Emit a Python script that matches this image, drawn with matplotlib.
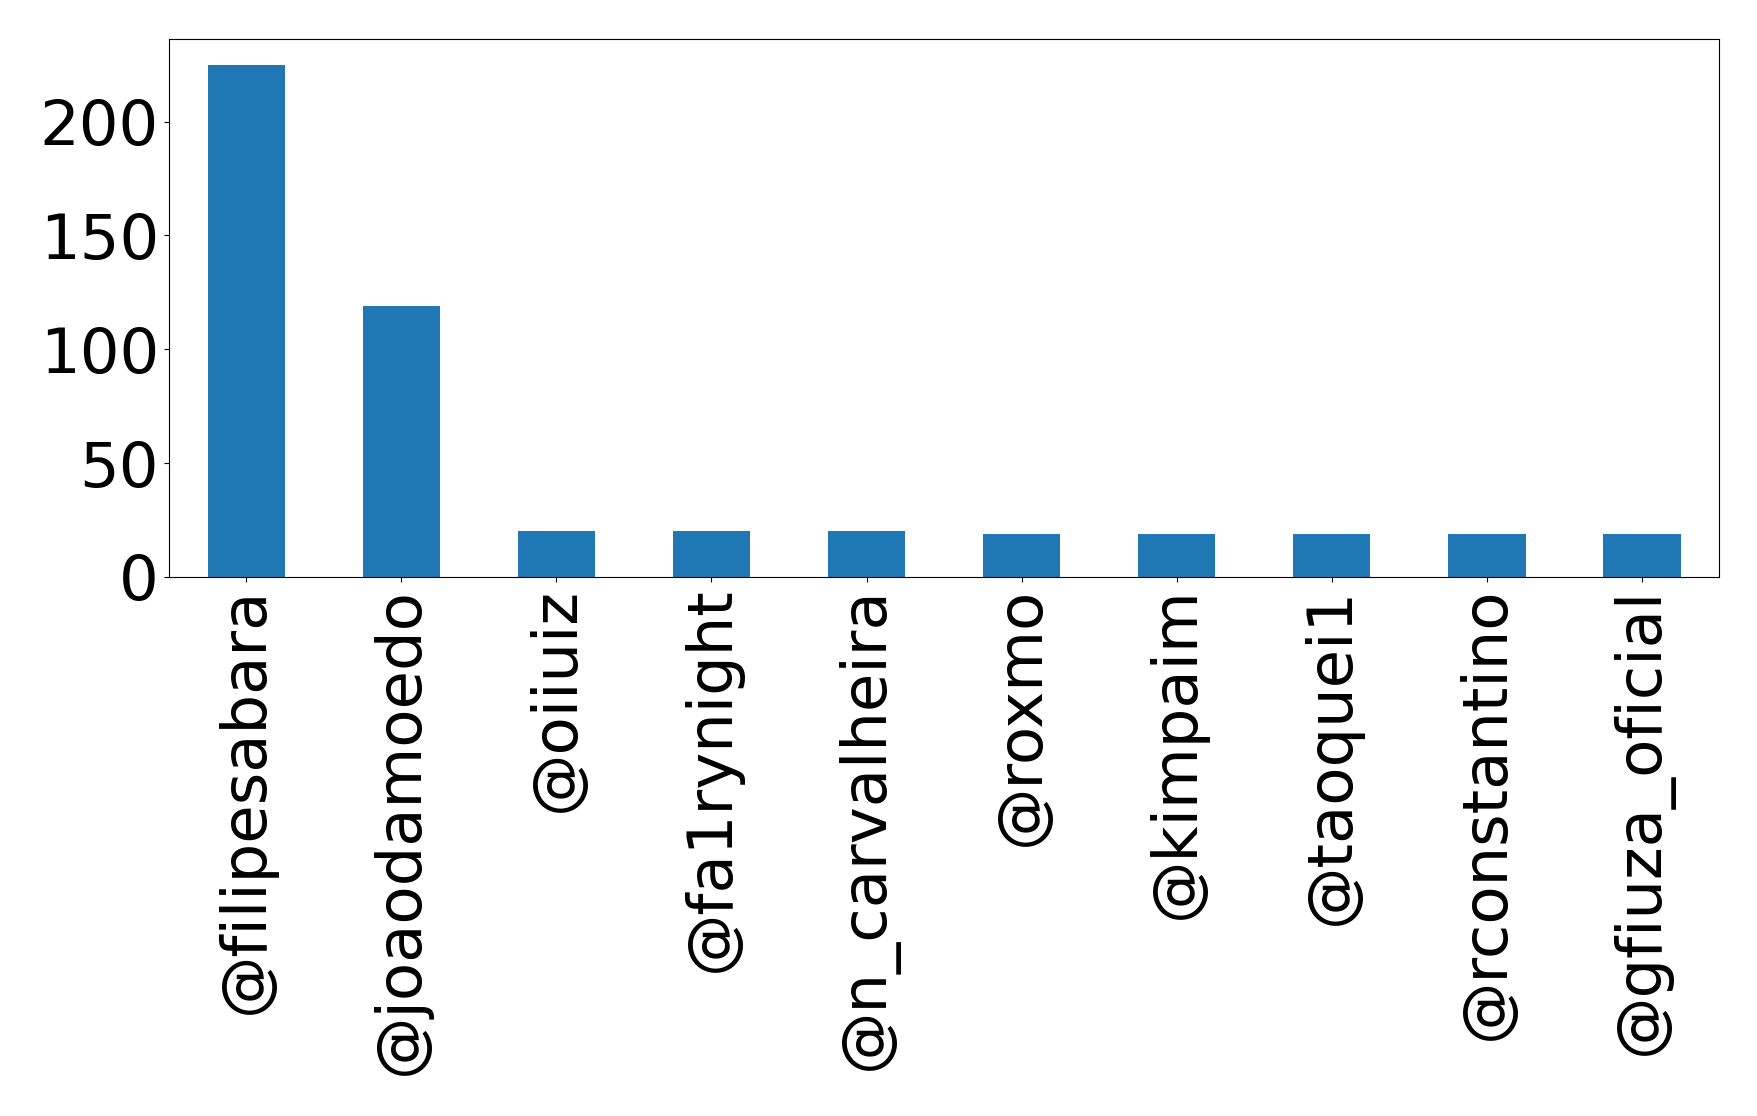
import matplotlib
matplotlib.use("Agg")
import matplotlib.pyplot as plt

users = ["@filipesabara", "@joaodamoedo", "@oiiuiz", "@fa1rynight", "@n_carvalheira",
         "@roxmo", "@kimpaim", "@taoquei1", "@rconstantino", "@gfiuza_oficial"]
counts = [225, 119, 20, 20, 20, 19, 19, 19, 19, 19]
yticks = [0, 50, 100, 150, 200]

fig = plt.figure(figsize=(17.58, 11.16), dpi=100)
ax = fig.add_axes([0.096, 0.483, 0.882, 0.482])
ax.bar(range(len(users)), counts, width=0.5, color="#1f77b4")
ax.set_xlim(-0.5, len(users) - 0.5)
ax.set_xticks(range(len(users)))
ax.set_xticklabels(users, rotation=90, fontsize=45)
ax.set_yticks(yticks)
ax.tick_params(axis="y", labelsize=45)
fig.savefig("out.png")
